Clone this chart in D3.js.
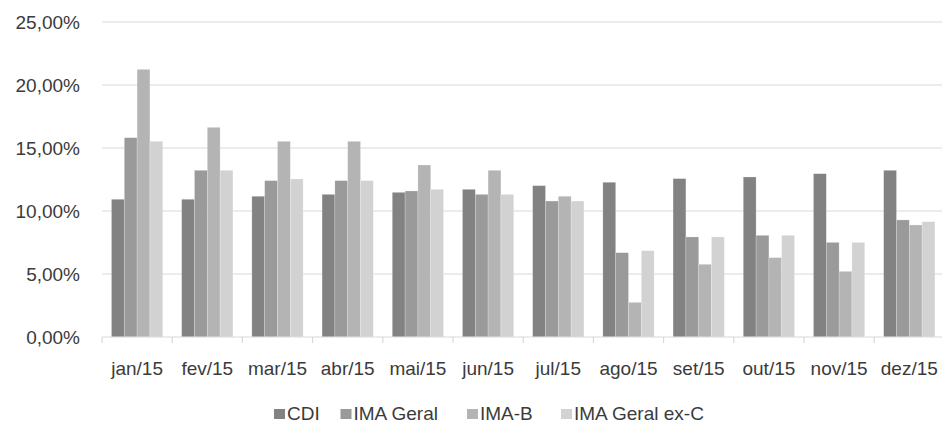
<!DOCTYPE html>
<html>
<head>
<meta charset="utf-8">
<script src="https://cdn.jsdelivr.net/npm/d3@7"></script>
<style>
  html, body { margin: 0; padding: 0; background: #fff; }
  svg { display: block; }
  text { font-family: "Liberation Sans", Arial, sans-serif; fill: #3b3b3b; }
</style>
</head>
<body>
<svg id="chart" width="942" height="422"></svg>
<script>
// Monthly 12-month returns, 2015
const months = ["jan/15", "fev/15", "mar/15", "abr/15", "mai/15", "jun/15",
                "jul/15", "ago/15", "set/15", "out/15", "nov/15", "dez/15"];
const seriesNames = ["CDI", "IMA Geral", "IMA-B", "IMA Geral ex-C"];
const cdi        = [10.93, 10.93, 11.17, 11.32, 11.48, 11.72, 12.01, 12.28, 12.57, 12.70, 12.96, 13.23];
const imaGeral   = [15.82, 13.23, 12.41, 12.41, 11.59, 11.32, 10.79, 6.69, 7.94, 8.07, 7.51, 9.29];
const imaB       = [21.24, 16.64, 15.53, 15.53, 13.65, 13.23, 11.17, 2.75, 5.77, 6.30, 5.21, 8.89];
const imaGeralExC = [15.53, 13.23, 12.54, 12.41, 11.72, 11.32, 10.79, 6.85, 7.94, 8.07, 7.51, 9.15];
const yTicks = [0, 5, 10, 15, 20, 25];
const colors = ["#828282", "#9a9a9a", "#b4b4b4", "#d2d2d2"];

const values = [cdi, imaGeral, imaB, imaGeralExC];
const svg = d3.select("#chart");

const plotLeft = 102, plotRight = 944.4, plotTop = 22, plotBottom = 337;
const pad = 0.27;

const x = d3.scaleBand().domain(months).range([plotLeft, plotRight])
  .paddingInner(pad).paddingOuter(pad / 2);
const x1 = d3.scaleBand().domain(seriesNames).range([0, x.bandwidth()]).padding(0);
const y = d3.scaleLinear().domain([0, 25]).range([plotBottom, plotTop]);

const fmt = v => d3.format(".2f")(v).replace(".", ",") + "%";

// horizontal gridlines
svg.append("g").selectAll("line").data(yTicks.filter(t => t > 0)).join("line")
  .attr("x1", plotLeft).attr("x2", 942)
  .attr("y1", d => y(d)).attr("y2", d => y(d))
  .attr("stroke", "#d9d9d9").attr("stroke-width", 1.2);

// y tick labels
svg.append("g").selectAll("text").data(yTicks).join("text")
  .attr("x", 80).attr("y", d => y(d))
  .attr("text-anchor", "end")
  .attr("dy", "0.36em")
  .attr("font-size", 19)
  .text(fmt);

// bars
const groups = svg.append("g").selectAll("g").data(months).join("g")
  .attr("transform", d => `translate(${x(d)},0)`);
groups.selectAll("rect")
  .data((m, i) => seriesNames.map((s, k) => ({ s, k, v: values[k][i] })))
  .join("rect")
  .attr("x", d => x1(d.s))
  .attr("width", x1.bandwidth())
  .attr("y", d => y(d.v))
  .attr("height", d => y(0) - y(d.v))
  .attr("fill", d => colors[d.k])
  .attr("stroke", "#ffffff").attr("stroke-opacity", 0.35).attr("stroke-width", 0.6);

// baseline and category boundary ticks
svg.append("line").attr("x1", plotLeft).attr("x2", 942)
  .attr("y1", y(0)).attr("y2", y(0))
  .attr("stroke", "#d9d9d9").attr("stroke-width", 1.2);
const bounds = months.map(m => x(m) - x.step() * pad / 2);
svg.append("g").selectAll("line").data(bounds).join("line")
  .attr("x1", d => d).attr("x2", d => d)
  .attr("y1", y(0)).attr("y2", y(0) + 6)
  .attr("stroke", "#d9d9d9").attr("stroke-width", 1.2);

// month labels
svg.append("g").selectAll("text").data(months).join("text")
  .attr("x", d => x(d) + x.bandwidth() / 2).attr("y", 375)
  .attr("text-anchor", "middle")
  .attr("font-size", 19)
  .text(d => d);

// legend
const legendX = [274, 340.5, 467, 561];
const legend = svg.append("g").selectAll("g").data(seriesNames).join("g")
  .attr("transform", (d, i) => `translate(${legendX[i]},0)`);
legend.append("rect")
  .attr("x", 0).attr("y", 409).attr("width", 11).attr("height", 10)
  .attr("fill", (d, i) => colors[i]);
legend.append("text")
  .attr("x", 13).attr("y", 419.5)
  .attr("font-size", 19)
  .text(d => d);
</script>
</body>
</html>
